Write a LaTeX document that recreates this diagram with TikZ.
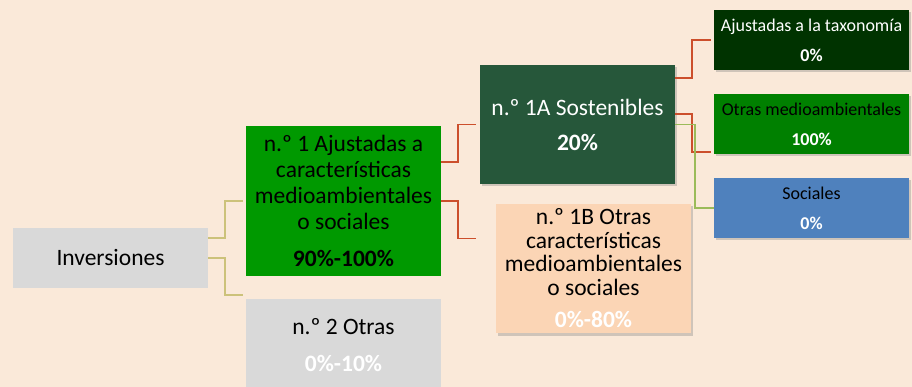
\documentclass[tikz,border=0pt]{standalone}
\usepackage{fontspec}
\setmainfont{Carlito}
\usetikzlibrary{shadows}

\definecolor{bgpeach}{HTML}{FAE9D9}
\definecolor{boxgray}{HTML}{D9D9D9}
\definecolor{mainGreen}{HTML}{009900}
\definecolor{darkGreen}{HTML}{26573A}
\definecolor{softPeach}{HTML}{FBD5B5}
\definecolor{deepGreen}{HTML}{003300}
\definecolor{midGreen}{HTML}{008000}
\definecolor{socialBlue}{HTML}{4F81BD}
\definecolor{wireOlive}{HTML}{CCC27A}
\definecolor{wireRed}{HTML}{CC4F2C}
\definecolor{wireGreen}{HTML}{9BBB59}

\tikzset{
    box/.style={minimum width=195pt, inner sep=0pt, align=center,
        font=\fontsize{23.5}{26}\selectfont},
    leaf/.style={box, minimum height=60pt, font=\fontsize{18}{30}\selectfont},
    boxshadow/.style={drop shadow={opacity=0.35, shadow xshift=2pt, shadow yshift=-2.5pt}},
    wire/.style={line width=1.5pt},
}

\begin{document}
\begin{tikzpicture}[x=1pt,y=-1pt]
        %% Background
        \useasboundingbox (0,0) rectangle (912,387);
        \fill[bgpeach] (0,0) rectangle (912,387);
        %% Boxes
        \node[box, fill=boxgray, minimum height=60pt] (inv) at (110.5,258) {Inversiones};
        \node[box, fill=mainGreen, minimum height=150pt] (n1) at (343.5,201)
            {n.º 1 Ajustadas a\\características\\medioambientales\\o sociales\\[11pt]\textbf{90\%-100\%}};
        \node[box, fill=boxgray, minimum height=92pt] (n2) at (343.5,345)
            {n.º 2 Otras\\[11pt]\textcolor{white}{\textbf{0\%-10\%}}};
        \node[box, fill=darkGreen, boxshadow, minimum height=119pt, text=white] (a1) at (577.5,124.5)
            {n.º 1A Sostenibles\\[9pt]\textbf{20\%}};
        \node[box, fill=softPeach, boxshadow, minimum height=129pt,
            font=\fontsize{23.5}{23.5}\selectfont] (b1) at (593.5,268.5)
            {n.º 1B Otras\\características\\medioambientales\\o sociales\\[9pt]\textcolor{white}{\textbf{0\%-80\%}}};
        %% Leaves
        \node[leaf, fill=deepGreen, boxshadow, text=white] (tax) at (811.5,40)
            {Ajustadas a la taxonomía\\\textbf{0\%}};
        \node[leaf, fill=midGreen, boxshadow] (env) at (811.5,124)
            {Otras medioambientales\\\textcolor{white}{\textbf{100\%}}};
        \node[leaf, fill=socialBlue, boxshadow] (soc) at (811.5,208)
            {Sociales\\\textcolor{white}{\textbf{0\%}}};
        %% Wires
        \draw[wire, wireOlive] ([yshift=20pt]inv.east) -- ++(17,0) |- ([xshift=-3pt]n1.west);
        \draw[wire, wireOlive] (inv.east) -- ++(17,0) |- ([xshift=-3pt,yshift=4pt]n2.north west);
        \draw[wire, wireRed] ([yshift=39pt]n1.east) -- ++(17,0) |- ([xshift=-4pt]a1.west);
        \draw[wire, wireRed] (n1.east) -- ++(17,0) |- ([xshift=-20pt,yshift=30pt]b1.west);
        \draw[wire, wireRed] ([yshift=46.5pt]a1.east) -- ++(17,0) |- ([xshift=-3pt]tax.west);
        \draw[wire, wireRed] ([yshift=10.5pt]a1.east) -- ++(17,0) |- ([xshift=-3pt,yshift=-28pt]env.west);
        \draw[wire, wireGreen] (a1.east) -- ++(20,0) |- (soc.west);
    \end{tikzpicture}
\end{document}
